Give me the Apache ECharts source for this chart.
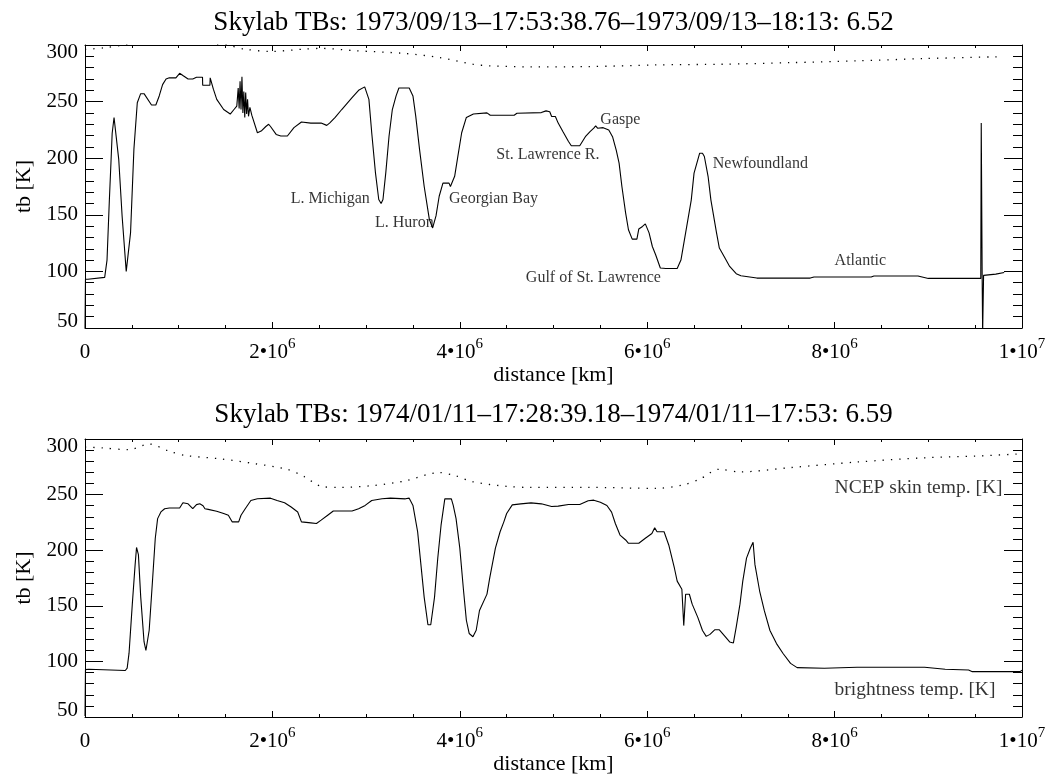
<!DOCTYPE html>
<html>
<head>
<meta charset="utf-8">
<script src="https://cdn.jsdelivr.net/npm/echarts@6/dist/echarts.min.js"></script>
<style>html,body{margin:0;padding:0;background:#fff}#c{width:1049px;height:776px}</style>
</head>
<body>
<div id="c"></div>
<script>
// ---------- DATA ----------
const titles = [
  'Skylab TBs: 1973/09/13–17:53:38.76–1973/09/13–18:13: 6.52',
  'Skylab TBs: 1974/01/11–17:28:39.18–1974/01/11–17:53: 6.59'
];
const xTickValues = [0, 2e6, 4e6, 6e6, 8e6, 1e7];
const yTickValues = [50, 100, 150, 200, 250, 300];

// Top panel: brightness temperature (solid)
const topTbX = [0,0.005e6,0.03e6,0.04e6,0.21e6,0.235e6,0.26e6,0.277e6,0.29e6,0.31e6,0.324e6,0.36e6,0.396e6,0.44e6,0.45e6,0.486e6,0.522e6,0.558e6,0.594e6,0.61e6,0.63e6,0.71e6,0.756e6,0.792e6,0.828e6,0.865e6,0.9e6,0.97e6,1.01e6,1.045e6,1.1e6,1.15e6,1.19e6,1.254e6,1.256e6,1.333e6,1.336e6,1.37e6,1.406e6,1.48e6,1.55e6,1.59e6,1.62e6,1.635e6,1.645e6,1.655e6,1.665e6,1.675e6,1.685e6,1.695e6,1.705e6,1.715e6,1.725e6,1.735e6,1.745e6,1.76e6,1.78e6,1.787e6,1.84e6,1.88e6,1.93e6,1.96e6,1.98e6,2.04e6,2.09e6,2.16e6,2.23e6,2.31e6,2.41e6,2.52e6,2.58e6,2.61e6,2.67e6,2.74e6,2.85e6,2.92e6,2.985e6,3.03e6,3.06e6,3.1e6,3.135e6,3.16e6,3.18e6,3.21e6,3.245e6,3.28e6,3.32e6,3.35e6,3.46e6,3.5e6,3.53e6,3.57e6,3.62e6,3.675e6,3.71e6,3.746e6,3.78e6,3.82e6,3.84e6,3.885e6,3.9e6,3.945e6,3.98e6,4.02e6,4.07e6,4.145e6,4.29e6,4.325e6,4.58e6,4.61e6,4.87e6,4.92e6,4.96e6,4.98e6,5.02e6,5.05e6,5.1e6,5.16e6,5.19e6,5.28e6,5.34e6,5.39e6,5.43e6,5.45e6,5.47e6,5.49e6,5.53e6,5.59e6,5.63e6,5.67e6,5.7e6,5.73e6,5.77e6,5.8e6,5.84e6,5.89e6,5.91e6,5.95e6,5.98e6,6.02e6,6.055e6,6.09e6,6.14e6,6.2e6,6.32e6,6.36e6,6.41e6,6.47e6,6.5e6,6.56e6,6.59e6,6.61e6,6.65e6,6.68e6,6.74e6,6.77e6,6.83e6,6.88e6,6.95e6,7.0e6,7.17e6,7.74e6,7.78e6,8.39e6,8.42e6,8.89e6,9.0e6,9.56e6,9.565e6,9.575e6,9.58e6,9.59e6,9.72e6,9.81e6];
const topTbY = [50,93,93,94.7,94.7,110,163,196,222,236,235,199,149,100,99,134,208,249,257,258,257,247,247,255,265,270,271,271,275,273,270,270,271.5,271.5,264.5,264.5,271,261,252,243,239,243,246,262,244,268,243,272,240,259,236,258,239,252,237,245,238,237,222.5,224,228,230,228,221,219.6,219.6,227,232,231,231,229,231,236,243,253.5,260,263,252,222.5,187,163.5,160,163.5,187,219.6,243,255,262,262,255,237,208,175,146,138.4,149,166.4,178,179,178,175,184,202,222.5,236,239,240,238,238,239.7,240.3,241.8,241,236.8,236.8,231,223.5,214.7,211,211,219,223.5,226.5,228.5,226.5,227.5,227,225,219,207,195.6,175,151.5,136.8,128.5,128.5,137.4,139.7,142,134,122,114.7,103,102.6,102.6,110,134,163,186.8,204.4,204.4,201.5,183.8,163,134,120.6,111.8,104.4,98,96.2,94.1,94.1,95,95,95.9,95.9,93.8,93.8,231,93,45,96.5,97.6,99];

// Top panel: NCEP skin temperature (dotted)
const topSkinX = [0,0.2e6,0.37e6,0.45e6,0.6e6,1.0e6,1.4e6,1.55e6,1.7e6,1.98e6,2.34e6,2.52e6,2.88e6,3.42e6,3.78e6,4.14e6,4.32e6,4.75e6,5.37e6,6.09e6,6.8e6,7.53e6,8.24e6,8.96e6,9.79e6];
const topSkinY = [296,297.5,299.5,301,303,303,301,299.3,296.4,294.3,296.4,297,295,292.5,289,283,281.6,280.7,280.9,282.4,283,284.4,286,288,289.7];

// Top panel annotations
const topNotes = ['L. Michigan','L. Huron','Georgian Bay','St. Lawrence R.','Gaspe','Newfoundland','Gulf of St. Lawrence','Atlantic'];
const topNotesX = [3.04e6,3.095e6,3.885e6,4.39e6,5.5e6,6.7e6,4.705e6,8.0e6];
const topNotesY = [164,142.8,163.8,202.9,233.8,194.7,94.2,109.4];

// Bottom panel: brightness temperature (solid)
const botTbX = [0,0.005e6,0.04e6,0.05e6,0.43e6,0.45e6,0.47e6,0.505e6,0.535e6,0.55e6,0.57e6,0.595e6,0.63e6,0.65e6,0.685e6,0.72e6,0.75e6,0.775e6,0.81e6,0.85e6,0.9e6,1.01e6,1.045e6,1.1e6,1.15e6,1.19e6,1.225e6,1.26e6,1.28e6,1.315e6,1.405e6,1.48e6,1.53e6,1.57e6,1.64e6,1.665e6,1.71e6,1.77e6,1.84e6,1.98e6,2.05e6,2.13e6,2.2e6,2.27e6,2.31e6,2.41e6,2.47e6,2.52e6,2.59e6,2.65e6,2.85e6,2.92e6,2.99e6,3.06e6,3.17e6,3.26e6,3.42e6,3.46e6,3.5e6,3.55e6,3.585e6,3.62e6,3.66e6,3.69e6,3.73e6,3.765e6,3.8e6,3.84e6,3.91e6,3.93e6,3.96e6,4.0e6,4.04e6,4.07e6,4.1e6,4.14e6,4.175e6,4.21e6,4.29e6,4.32e6,4.38e6,4.43e6,4.47e6,4.5e6,4.56e6,4.65e6,4.76e6,4.87e6,4.98e6,5.05e6,5.16e6,5.28e6,5.37e6,5.43e6,5.5e6,5.57e6,5.62e6,5.66e6,5.71e6,5.77e6,5.8e6,5.91e6,5.98e6,6.05e6,6.08e6,6.105e6,6.18e6,6.23e6,6.29e6,6.32e6,6.37e6,6.39e6,6.41e6,6.45e6,6.48e6,6.54e6,6.59e6,6.63e6,6.67e6,6.72e6,6.77e6,6.83e6,6.88e6,6.92e6,6.95e6,6.99e6,7.02e6,7.06e6,7.1e6,7.13e6,7.15e6,7.2e6,7.25e6,7.31e6,7.38e6,7.45e6,7.53e6,7.6e6,7.89e6,8.24e6,8.96e6,9.18e6,9.43e6,9.47e6,9.98e6,1e7];
const botTbY = [51,92.6,93,91.8,91.8,94,107.4,151.7,187,202.5,196,157.6,117.7,109.8,128,172,210.7,228.4,234.4,237.3,237.9,237.9,242.6,241.7,237.3,241,241.7,240,237.3,236.7,235,233,231.4,225.5,225.5,231.4,237.3,244.7,246.2,246.8,244.7,242.6,238.8,234.4,225.5,224.6,224,227,231.4,235.2,235.2,237.3,240.3,244.7,246.2,246.8,246.2,246.8,240.3,216.6,187,157.6,133,133,157.6,193,222.5,246.2,246.2,240.3,228.4,201.9,163.5,137,125.1,122.2,128,145.8,160.5,175.3,201.9,216.6,225.5,233,240.8,241.7,242.6,241.7,239.3,239.6,241.1,241.1,244.4,245,243.2,240.2,234.3,224,213.6,209.2,206.2,206.2,210.7,215,220.1,216.6,216.6,204.7,184,172.2,164.8,132.2,160.4,160.4,151.5,139.6,127.8,122.5,124.3,128.4,128.4,122.5,117.5,116.6,130.8,151.5,172.2,192.9,201.8,207.1,187,163.3,145.6,127.8,116,107.1,98.2,94.4,93.8,94.7,94.7,92.9,92.3,90.8,90.8,92];

// Bottom panel: NCEP skin temperature (dotted)
const botSkinX = [0,0.18e6,0.47e6,0.685e6,0.9e6,1.08e6,1.44e6,1.8e6,2.16e6,2.34e6,2.52e6,2.7e6,3.06e6,3.42e6,3.78e6,3.96e6,4.14e6,4.5e6,4.75e6,5.37e6,6.09e6,6.38e6,6.56e6,6.77e6,6.99e6,7.53e6,8.24e6,8.96e6,9.5e6,1e7];
const botSkinY = [292.8,292,290.4,295.5,289,285.1,282.2,278,272.7,266.2,257.4,256.5,258,262.4,269.8,266.8,261.5,257.4,256.5,256.5,255.6,258.6,263.9,272.8,270.4,274.3,279.3,283.1,284.6,286.7];

// Bottom panel annotations
const botNotes = ['NCEP skin temp. [K]','brightness temp. [K]'];
const botNotesX = [8.0e6, 8.0e6];
const botNotesY = [255.7, 74.6];

// ---------- CHART ----------
const FONT = 'Liberation Serif';
const zip = (xs, ys) => xs.map((x, i) => [x, ys[i]]);

function xLabel(v) {
  if (v === 0) return '{a|0}';
  const e = Math.floor(Math.log10(v) + 1e-9);
  const m = Math.round(v / Math.pow(10, e));
  return '{a|' + m + '•10}{s|' + e + '}';
}
function yLabel(v) {
  if (v === 300) return '{hi|' + v + '}';
  if (v === 50) return '{lo|' + v + '}';
  return '{n|' + v + '}';
}

const black = '#000';
function makeX(grid, pos, showLabel) {
  return {
    type: 'value', gridIndex: grid, position: pos, min: 0, max: 1e7, interval: 2e6,
    axisLine: { show: true, onZero: false, lineStyle: { color: black, width: 1 } },
    axisTick: { show: true, inside: true, length: 6, lineStyle: { color: black, width: 1 } },
    minorTick: { show: true, splitNumber: 4, length: 3, lineStyle: { color: black, width: 1 } },
    splitLine: { show: false }, minorSplitLine: { show: false },
    axisLabel: showLabel ? {
      show: true, margin: 9, formatter: xLabel, color: black,
      rich: {
        a: { fontFamily: FONT, fontSize: 21, lineHeight: 30, color: black },
        s: { fontFamily: FONT, fontSize: 15, lineHeight: 12, verticalAlign: 'top', color: black }
      }
    } : { show: false },
    name: showLabel ? 'distance [km]' : '',
    nameLocation: 'middle', nameGap: 36,
    nameTextStyle: { fontFamily: FONT, fontSize: 22, color: black }
  };
}
function makeY(grid, pos, showLabel) {
  return {
    type: 'value', gridIndex: grid, position: pos, min: 50, max: 300, interval: 50,
    axisLine: { show: true, onZero: false, lineStyle: { color: black, width: 1 } },
    axisTick: { show: true, inside: true, length: 18, lineStyle: { color: black, width: 1 } },
    minorTick: { show: true, splitNumber: 5, length: 9, lineStyle: { color: black, width: 1 } },
    splitLine: { show: false }, minorSplitLine: { show: false },
    axisLabel: showLabel ? {
      show: true, margin: 7, formatter: yLabel, color: black,
      rich: {
        n: { fontFamily: FONT, fontSize: 21, color: black },
        hi: { fontFamily: FONT, fontSize: 21, color: black, padding: [14, 0, 0, 0] },
        lo: { fontFamily: FONT, fontSize: 21, color: black, padding: [0, 0, 13, 0] }
      }
    } : { show: false },
    name: showLabel ? 'tb [K]' : '',
    nameLocation: 'middle', nameGap: 44, nameRotate: 90,
    nameTextStyle: { fontFamily: FONT, fontSize: 22, color: black }
  };
}

function notesData(names, xs, ys, rightAlignFirst) {
  return names.map((n, i) => ({
    value: [xs[i], ys[i]], name: n,
    label: { align: (rightAlignFirst && i === 0) ? 'right' : 'left' }
  }));
}

const chart = echarts.init(document.getElementById('c'), null, { renderer: 'canvas' });
chart.setOption({
  animation: false,
  backgroundColor: '#fff',
  title: [
    { text: titles[0], left: 553.5, top: 9, padding: 0, textAlign: 'center',
      textStyle: { fontFamily: FONT, fontSize: 27, fontWeight: 'normal', color: black } },
    { text: titles[1], left: 553.5, top: 401, padding: 0, textAlign: 'center',
      textStyle: { fontFamily: FONT, fontSize: 27, fontWeight: 'normal', color: black } }
  ],
  grid: [
    { left: 85, top: 45, width: 937, height: 283 },
    { left: 85, top: 439, width: 937, height: 282 }
  ],
  xAxis: [makeX(0, 'bottom', true), makeX(0, 'top', false), makeX(1, 'bottom', true), makeX(1, 'top', false)],
  yAxis: [makeY(0, 'left', true), makeY(0, 'right', false), makeY(1, 'left', true), makeY(1, 'right', false)],
  series: [
    { type: 'line', xAxisIndex: 0, yAxisIndex: 0, data: zip(topTbX, topTbY), showSymbol: false, clip: true,
      lineStyle: { color: black, width: 1.1 }, z: 3 },
    { type: 'line', xAxisIndex: 0, yAxisIndex: 0, data: zip(topSkinX, topSkinY), showSymbol: false, clip: true, smooth: 0.3,
      lineStyle: { color: black, width: 1.3, type: [1.3, 7] }, z: 3 },
    { type: 'scatter', xAxisIndex: 0, yAxisIndex: 0, symbolSize: 1, itemStyle: { color: 'rgba(0,0,0,0)' },
      data: notesData(topNotes, topNotesX, topNotesY, true), silent: true,
      label: { show: true, position: 'inside', formatter: '{b}', verticalAlign: 'middle',
        fontFamily: FONT, fontSize: 16, color: black, textBorderWidth: 0 } },
    { type: 'line', xAxisIndex: 2, yAxisIndex: 2, data: zip(botTbX, botTbY), showSymbol: false, clip: true,
      lineStyle: { color: black, width: 1.1 }, z: 3 },
    { type: 'line', xAxisIndex: 2, yAxisIndex: 2, data: zip(botSkinX, botSkinY), showSymbol: false, clip: true, smooth: 0.3,
      lineStyle: { color: black, width: 1.3, type: [1.3, 7] }, z: 3 },
    { type: 'scatter', xAxisIndex: 2, yAxisIndex: 2, symbolSize: 1, itemStyle: { color: 'rgba(0,0,0,0)' },
      data: notesData(botNotes, botNotesX, botNotesY, false), silent: true,
      label: { show: true, position: 'inside', formatter: '{b}', verticalAlign: 'middle',
        fontFamily: FONT, fontSize: 19.5, color: black, textBorderWidth: 0 } }
  ]
});
</script>
</body>
</html>
